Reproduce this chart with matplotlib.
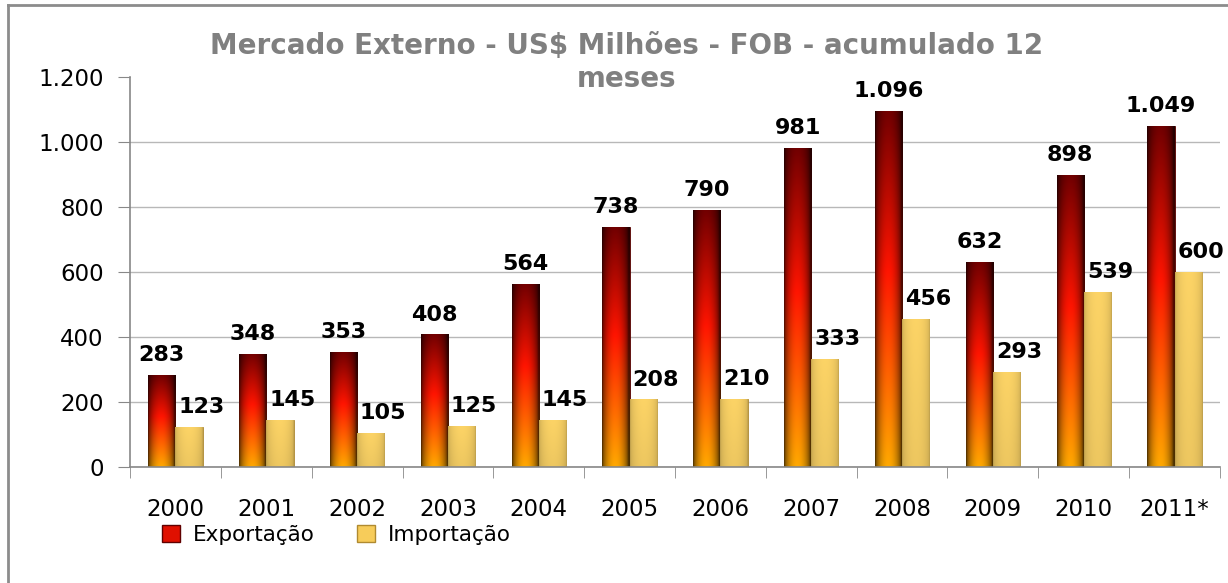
import numpy as np
import matplotlib.pyplot as plt
from matplotlib.patches import Patch
from matplotlib.lines import Line2D
from matplotlib.ticker import FuncFormatter

anos = ['2000', '2001', '2002', '2003', '2004', '2005',
        '2006', '2007', '2008', '2009', '2010', '2011*']
exportacao = [283, 348, 353, 408, 564, 738, 790, 981, 1096, 632, 898, 1049]
importacao = [123, 145, 105, 125, 145, 208, 210, 333, 456, 293, 539, 600]


def fmt(v):
    return f"{int(v):,}".replace(",", ".")


def lerp(c0, c1, t):
    return c0 + (c1 - c0) * t


def gradient_export(n=120, m=40):
    t = np.linspace(0, 1, n)[:, None]
    top = np.array([0.45, 0.0, 0.0])
    mid = np.array([1.0, 0.08, 0.0])
    bot = np.array([1.0, 0.66, 0.0])
    col = np.where(t < 0.45, lerp(top, mid, t / 0.45), lerp(mid, bot, (t - 0.45) / 0.55))
    u = np.linspace(0, 1, m)
    f = 0.3 + 0.7 * np.sin(np.pi * np.clip(u * 1.05, 0, 1)) ** 0.6
    img = col[:, None, :] * f[None, :, None]
    return np.clip(img, 0, 1)


def gradient_import(n=120, m=40):
    base = np.array([0.99, 0.83, 0.40])
    u = np.linspace(0, 1, m)
    f = 0.78 + 0.22 * np.sin(np.pi * u) ** 0.4
    t = np.linspace(0, 1, n)[:, None]
    v = 1.0 - 0.06 * t
    img = base[None, None, :] * f[None, :, None] * v[:, :, None]
    return np.clip(img, 0, 1)


fig = plt.figure(figsize=(12.28, 5.83), dpi=100)
ax = fig.add_axes([130 / 1228, 1 - 467 / 583, 1090 / 1228, 390 / 583])

x = np.arange(len(anos))
w = 0.3
b1 = ax.bar(x - w / 2, exportacao, w, color='#e01000', edgecolor='#4a0000', linewidth=0.6, zorder=2)
b2 = ax.bar(x + w / 2, importacao, w, color='#fbd266', edgecolor='#a88430', linewidth=0.6, zorder=2)

g_exp = gradient_export()
g_imp = gradient_import()
for bars, g in ((b1, g_exp), (b2, g_imp)):
    for r in bars:
        x0, y0 = r.get_x(), r.get_y()
        im = ax.imshow(g, extent=(x0, x0 + r.get_width(), y0, y0 + r.get_height()),
                       aspect='auto', interpolation='bilinear', zorder=2.5)
        im.set_clip_path(r)

for i in range(len(anos)):
    ax.annotate(fmt(exportacao[i]), (x[i] - w / 2, exportacao[i]), xytext=(0, 10),
                textcoords='offset points', ha='center', va='baseline',
                fontsize=16, fontweight='bold', color='black', zorder=4)
    ax.annotate(fmt(importacao[i]), (x[i] + w / 2, importacao[i]), xytext=(9, 10),
                textcoords='offset points', ha='center', va='baseline',
                fontsize=16, fontweight='bold', color='black', zorder=4)

ax.set_xlim(-0.5, len(anos) - 0.5)
ax.set_ylim(0, 1200)
ax.set_yticks(np.arange(0, 1201, 200))
ax.yaxis.set_major_formatter(FuncFormatter(lambda v, p: fmt(v)))
ax.set_xticks(x)
ax.set_xticklabels(anos)
ax.set_xticks(np.arange(-0.5, len(anos), 1.0), minor=True)
ax.tick_params(axis='x', which='major', length=0, pad=22, labelsize=16.5)
ax.tick_params(axis='x', which='minor', length=8, color='#888888', direction='out')
ax.tick_params(axis='y', length=9, color='#888888', pad=10, labelsize=16.5)

ax.yaxis.grid(True, color='#b8b8b8', linewidth=1, zorder=0)
ax.set_axisbelow(True)
ax.get_ygridlines()[-1].set_visible(False)

for s in ('top', 'right'):
    ax.spines[s].set_visible(False)
for s in ('left', 'bottom'):
    ax.spines[s].set_color('#888888')
    ax.spines[s].set_linewidth(1.2)

# title in two separate lines (as in the original chart)
fig.text(627 / 1228, 1 - 54 / 583, 'Mercado Externo - US$ Milhões - FOB - acumulado 12',
         ha='center', va='baseline', fontsize=20, fontweight='bold', color='#808080')
fig.text(627 / 1228, 1 - 87 / 583, 'meses',
         ha='center', va='baseline', fontsize=20, fontweight='bold', color='#808080')

handles = [Patch(facecolor='#e01000', edgecolor='#600000'),
           Patch(facecolor='#f7cc5a', edgecolor='#b08a30')]
fig.legend(handles, ['Exportação', 'Importação'], loc='center left',
           bbox_to_anchor=(143 / 1228, 1 - 535 / 583), ncol=2, frameon=False,
           fontsize=15.5, handlelength=0.8, handleheight=0.8, handletextpad=0.6,
           columnspacing=2.0)

fig.add_artist(Line2D([8 / 1228, 8 / 1228], [0, 1 - 5 / 583], transform=fig.transFigure,
                      color='#8c8c8c', linewidth=2))
fig.add_artist(Line2D([8 / 1228, 1], [1 - 5 / 583, 1 - 5 / 583], transform=fig.transFigure,
                      color='#8c8c8c', linewidth=2))

fig.savefig('out.png', dpi=100)
